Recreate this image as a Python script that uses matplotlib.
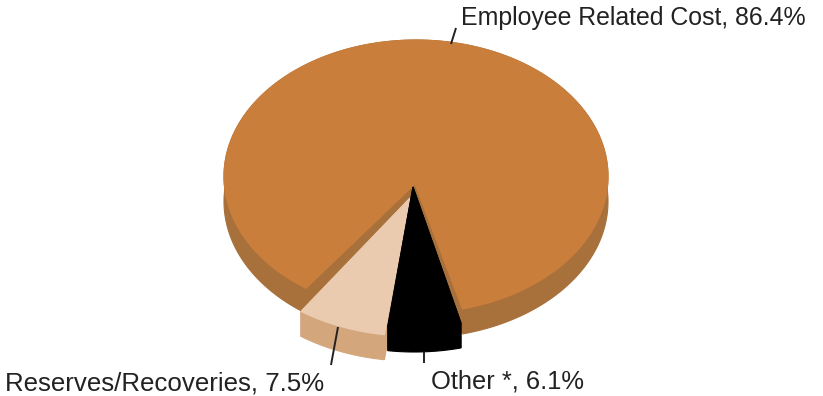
# 3D-style pie of cost shares with two pulled-out slices

import matplotlib
matplotlib.use("Agg")
import matplotlib.pyplot as plt
from matplotlib.patches import Polygon
import numpy as np

plt.rcParams['font.family'] = ['Liberation Sans', 'DejaVu Sans']

CATEGORIES = ["Employee Related Cost", "Reserves/Recoveries", "Other *"]
SHARES = [86.4, 7.5, 6.1]
TOP_COLOURS = ['#c97e3c', '#ebcbb0', '#000000']
SIDE_COLOURS = ['#a8703a', '#d4a67c', '#000000']

WIDTH_PX, HEIGHT_PX = 823, 396
CX, CY = 416, 176.5
RX, RY = 192, 136.5
APEX_X, APEX_Y = 415, 184  # perspective puts the slice tips below the ellipse centre
DEPTH = 25
START_DEG = 14.0  # angle from straight down, where "Other" begins

# how far each slice is pulled out of the pie, in pixels
OFFSETS = [(0, 0), (-5, 23), (-1.5, 14)]
APEX_OFFSETS = [(0, 0), (-5, 14), (-2, 3)]

# leader line ends (slice side, label side)
LEADERS = [((451, 44), (456, 28)), ((338, 327), (331, 365)), ((424, 352), (424, 363))]
LABEL_POS = [(461, 25), (5, 391), (431, 389)]
LABEL_SIZES = [17.95, 18.6, 18.35]


def rim(a_from, a_to, dx=0, dy=0):
    a = np.radians(np.linspace(a_from, a_to, 200))
    return np.column_stack((CX + dx + RX * np.sin(a), CY + dy + RY * np.cos(a)))


def draw_slice(ax, a_from, a_to, top, side, offset, apex_offset):
    apex = np.array([APEX_X + apex_offset[0], APEX_Y + apex_offset[1]])
    down = np.array([0, DEPTH])
    edge = rim(a_from, a_to, *offset)

    # outer wall and the two cut faces go underneath the top face
    ax.add_patch(Polygon(np.vstack((edge, edge[::-1] + down)), fc=side, ec=side, lw=0.8))
    for p in (edge[0], edge[-1]):
        ax.add_patch(Polygon([apex, p, p + down, apex + down], fc=side, ec=side, lw=0.8))
    ax.add_patch(Polygon(np.vstack((apex, edge)), fc=top, ec=top, lw=0.8))


fig = plt.figure(figsize=(WIDTH_PX / 100, HEIGHT_PX / 100), dpi=100)
ax = fig.add_axes([0, 0, 1, 1])
ax.set_xlim(0, WIDTH_PX)
ax.set_ylim(HEIGHT_PX, 0)
ax.axis("off")

# sweep clockwise on screen from "Other": each slice spans its share of the circle
sweep = [s / sum(SHARES) * 360 for s in SHARES]
other_end = START_DEG - sweep[2]
reserves_end = other_end - sweep[1]
spans = [(START_DEG, reserves_end + 360), (other_end, reserves_end), (START_DEG, other_end)]

for i in range(3):
    draw_slice(ax, spans[i][0], spans[i][1], TOP_COLOURS[i], SIDE_COLOURS[i], OFFSETS[i], APEX_OFFSETS[i])

for name, share, pos, size, leader in zip(CATEGORIES, SHARES, LABEL_POS, LABEL_SIZES, LEADERS):
    ax.plot(*zip(*leader), color='#222222', lw=1.4, solid_capstyle='butt')
    ax.text(pos[0], pos[1], f"{name}, {share}%", fontsize=size, color='#222222',
            ha='left', va='baseline')

plt.savefig("out.png", dpi=100)
